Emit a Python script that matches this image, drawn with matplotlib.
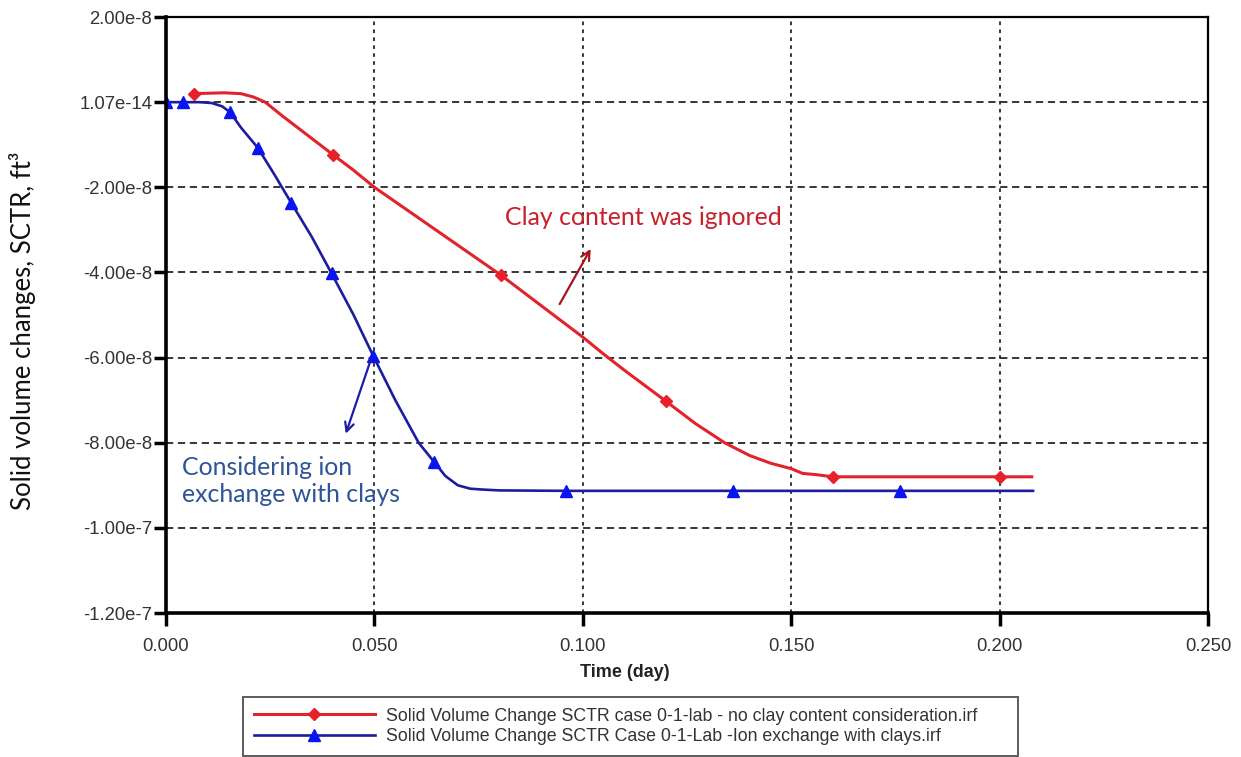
import matplotlib
matplotlib.use("Agg")
import matplotlib.pyplot as plt

# time (day) and solid volume change (x 1e-8 ft3), no clay content case
red_t = [0.0066, 0.010, 0.014, 0.018, 0.021, 0.0238, 0.028, 0.032, 0.036, 0.040,
         0.045, 0.050, 0.060, 0.070, 0.0803, 0.090, 0.100, 0.105, 0.110, 0.120,
         0.127, 0.134, 0.140, 0.145, 0.150, 0.1527, 0.156, 0.160, 0.200, 0.2077]
red_v = [0.20, 0.21, 0.22, 0.20, 0.12, 0.0, -0.33, -0.63, -0.93, -1.23,
         -1.6, -2.0, -2.68, -3.36, -4.06, -4.78, -5.52, -5.92, -6.3, -7.03,
         -7.55, -8.0, -8.3, -8.48, -8.61, -8.72, -8.75, -8.8, -8.8, -8.8]
red_marks = [0.0066, 0.040, 0.0803, 0.120, 0.160, 0.200]

# ion exchange with clays case
blue_t = [0.0, 0.004, 0.008, 0.011, 0.0135, 0.0154, 0.018, 0.022, 0.026, 0.030,
          0.035, 0.0397, 0.045, 0.0497, 0.055, 0.0606, 0.0643, 0.067, 0.070, 0.073,
          0.076, 0.080, 0.096, 0.136, 0.176, 0.208]
blue_v = [0.0, 0.0, 0.0, -0.02, -0.1, -0.24, -0.6, -1.07, -1.7, -2.36,
          -3.17, -4.02, -5.0, -5.96, -7.0, -8.0, -8.45, -8.78, -9.0, -9.08,
          -9.1, -9.12, -9.13, -9.13, -9.13, -9.13]
blue_marks = [0.0, 0.004, 0.0154, 0.022, 0.030, 0.0397, 0.0497, 0.0643, 0.096, 0.136, 0.176]

x_ticks = [0.0, 0.05, 0.10, 0.15, 0.20, 0.25]
x_labels = ["0.000", "0.050", "0.100", "0.150", "0.200", "0.250"]
y_ticks = [2e-8, 0.0, -2e-8, -4e-8, -6e-8, -8e-8, -1e-7, -1.2e-7]
y_labels = ["2.00e-8", "1.07e-14", "-2.00e-8", "-4.00e-8", "-6.00e-8",
            "-8.00e-8", "-1.00e-7", "-1.20e-7"]

label_red = "Solid Volume Change SCTR case 0-1-lab - no clay content consideration.irf"
label_blue = "Solid Volume Change SCTR Case 0-1-Lab -Ion exchange with clays.irf"

arial = "Liberation Sans"
calibri = ["Lato", "DejaVu Sans"]

fig = plt.figure(figsize=(12.41, 7.57), dpi=100)
ax = fig.add_axes([0.1338, 0.1902, 0.8397, 0.7873])

red_y = [v * 1e-8 for v in red_v]
blue_y = [v * 1e-8 for v in blue_v]
ax.plot(red_t, red_y, color="#e3232c", lw=2.2, marker="D", ms=6,
        mfc="#e8202a", mec="#e8202a",
        markevery=[red_t.index(t) for t in red_marks], label=label_red)
ax.plot(blue_t, blue_y, color="#1c1c9e", lw=1.9, marker="^", ms=8.5,
        mfc="#0a14f0", mec="#0a14f0",
        markevery=[blue_t.index(t) for t in blue_marks], label=label_blue)

ax.set_xlim(0, 0.25)
ax.set_ylim(-1.2e-7, 2e-8)
ax.set_xticks(x_ticks)
ax.set_xticklabels(x_labels)
ax.set_yticks(y_ticks)
ax.set_yticklabels(y_labels)
ax.tick_params(axis="both", direction="out", length=9, width=2.5, color="black",
               labelsize=13.3, labelcolor="#333333")
ax.tick_params(axis="y", pad=1)
ax.tick_params(axis="x", pad=9)
for lab in ax.get_xticklabels() + ax.get_yticklabels():
    lab.set_fontfamily(arial)

# dashed horizontal / dotted vertical grid
ax.yaxis.grid(True, color="#262626", lw=1.3, linestyle=(0, (4, 2.6)))
ax.xaxis.grid(True, color="#262626", lw=1.3, linestyle=(0, (2, 2.4)))
ax.set_axisbelow(True)

for side in ["left", "bottom"]:
    ax.spines[side].set_linewidth(2.6)
for side in ["top", "right"]:
    ax.spines[side].set_linewidth(1.6)

ax.set_xlabel("Time (day)", fontsize=13, fontweight="bold", family=arial, color="#222222")
ax.xaxis.set_label_coords(0.44, -0.1)
ax.xaxis.label.set_va("center")
fig.text(0.018, 0.563, "Solid volume changes, SCTR, ft³", rotation=90,
         ha="center", va="center", fontsize=18.5, family=calibri, color="#111111")

# annotations
ax.text(0.0813, -2.71e-8, "Clay content was ignored", color="#c8202a",
        fontsize=17.9, family=calibri, ha="left", va="center")
ax.annotate("", xy=(0.1022, -3.39e-8), xytext=(0.0941, -4.80e-8),
            arrowprops=dict(arrowstyle="->", color="#a8141e", lw=1.6,
                            mutation_scale=16))
ax.text(0.0038, -8.89e-8, "Considering ion\nexchange with clays", color="#2f5597",
        fontsize=17.9, family=calibri, ha="left", va="center", linespacing=1.22)
ax.annotate("", xy=(0.0429, -7.85e-8), xytext=(0.0494, -5.97e-8),
            arrowprops=dict(arrowstyle="->", color="#1c1ca8", lw=1.6,
                            mutation_scale=16))

leg = ax.legend(loc="upper left", bbox_to_anchor=(243 / 1241, 0.0, 775 / 1241, 60 / 757),
                bbox_transform=fig.transFigure, mode="expand", ncol=1,
                prop={"family": arial, "size": 12.8}, handlelength=6.8,
                handletextpad=0.62, borderpad=0.6, labelspacing=0.2,
                fancybox=False, frameon=True, borderaxespad=0)
leg.get_frame().set_edgecolor("#333333")
leg.get_frame().set_linewidth(1.4)
for txt in leg.get_texts():
    txt.set_color("#333333")

fig.savefig("out.png", dpi=100)
